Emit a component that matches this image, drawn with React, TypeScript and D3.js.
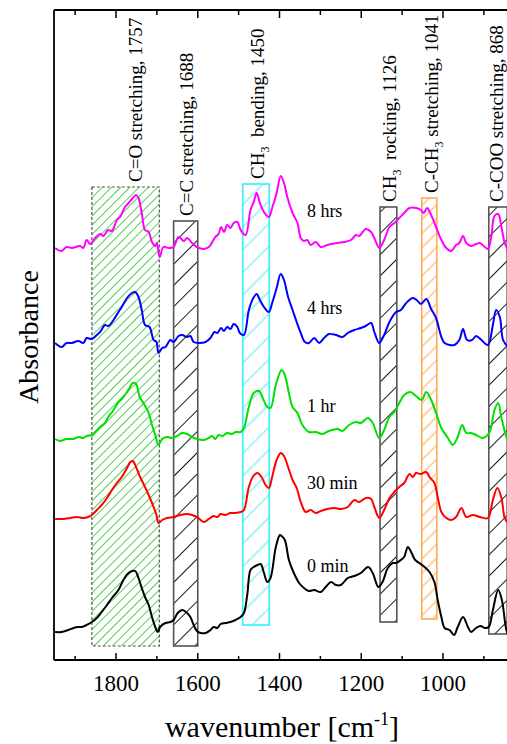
import React, { useEffect, useRef } from 'react';
import * as d3 from 'd3';

// spectra: [wavenumber cm-1, absorbance (stacked, a.u.)]
const min0 = [
  [1949, 0.28], [1933, 0.28], [1917, 0.30], [1904, 0.32], [1892, 0.33], [1884, 0.33], [1872, 0.35], [1859, 0.38],
  [1847, 0.42], [1835, 0.48], [1822, 0.55], [1810, 0.62], [1794, 0.70], [1782, 0.80], [1772, 0.86], [1761, 0.89],
  [1753, 0.89], [1745, 0.82], [1737, 0.72], [1729, 0.63], [1720, 0.55], [1712, 0.43], [1704, 0.33], [1698, 0.28],
  [1692, 0.33], [1679, 0.37], [1667, 0.38], [1659, 0.40], [1649, 0.47], [1638, 0.50], [1626, 0.47], [1618, 0.43],
  [1610, 0.35], [1602, 0.29], [1593, 0.27], [1581, 0.27], [1569, 0.30], [1561, 0.33], [1552, 0.32], [1544, 0.36],
  [1532, 0.37], [1520, 0.38], [1508, 0.40], [1495, 0.43], [1487, 0.47], [1479, 0.65], [1471, 0.90], [1463, 0.93],
  [1454, 0.95], [1446, 0.96], [1438, 0.87], [1430, 0.78], [1422, 0.82], [1409, 1.13], [1399, 1.25], [1395, 1.24],
  [1387, 1.20], [1377, 1.00], [1366, 0.88], [1352, 0.77], [1340, 0.72], [1328, 0.69], [1315, 0.70], [1299, 0.68],
  [1287, 0.73], [1274, 0.78], [1262, 0.75], [1250, 0.75], [1233, 0.82], [1217, 0.84], [1201, 0.87], [1183, 0.93],
  [1172, 0.87], [1158, 0.73], [1148, 0.78], [1135, 0.92], [1123, 0.97], [1115, 0.97], [1103, 1.00], [1095, 1.03],
  [1086, 1.13], [1078, 1.08], [1068, 1.00], [1058, 0.97], [1045, 0.93], [1033, 0.88], [1021, 0.78], [1013, 0.60],
  [1004, 0.43], [996, 0.32], [984, 0.30], [973, 0.25], [964, 0.33], [951, 0.43], [939, 0.33], [931, 0.28],
  [919, 0.32], [908, 0.34], [898, 0.32], [888, 0.33], [878, 0.50], [865, 0.70], [856, 0.60], [845, 0.30], [840, 0.25],
];
const min30 = [
  [1949, 1.41], [1929, 1.41], [1912, 1.42], [1896, 1.43], [1880, 1.42], [1868, 1.43], [1859, 1.45], [1847, 1.50],
  [1835, 1.55], [1822, 1.62], [1810, 1.70], [1798, 1.77], [1786, 1.83], [1773, 1.92], [1765, 1.98], [1759, 1.99],
  [1751, 1.93], [1741, 1.83], [1729, 1.73], [1718, 1.63], [1708, 1.53], [1701, 1.45], [1696, 1.37], [1687, 1.40],
  [1675, 1.42], [1659, 1.43], [1643, 1.45], [1626, 1.46], [1614, 1.45], [1602, 1.43], [1585, 1.38], [1573, 1.41],
  [1561, 1.44], [1552, 1.43], [1544, 1.46], [1532, 1.45], [1520, 1.47], [1508, 1.47], [1495, 1.48], [1487, 1.50],
  [1475, 1.73], [1464, 1.84], [1454, 1.87], [1444, 1.83], [1434, 1.75], [1426, 1.72], [1418, 1.83], [1407, 2.00],
  [1397, 2.07], [1389, 2.04], [1379, 1.93], [1368, 1.80], [1358, 1.72], [1348, 1.58], [1336, 1.48], [1324, 1.50],
  [1311, 1.47], [1299, 1.49], [1283, 1.51], [1266, 1.52], [1250, 1.51], [1233, 1.53], [1217, 1.60], [1205, 1.58],
  [1189, 1.62], [1176, 1.61], [1168, 1.53], [1156, 1.42], [1144, 1.50], [1131, 1.62], [1119, 1.68], [1107, 1.73],
  [1095, 1.77], [1082, 1.86], [1074, 1.83], [1066, 1.87], [1054, 1.86], [1041, 1.88], [1033, 1.83], [1021, 1.77],
  [1013, 1.63], [1004, 1.48], [992, 1.42], [980, 1.40], [968, 1.43], [955, 1.52], [943, 1.43], [927, 1.45],
  [910, 1.43], [890, 1.42], [878, 1.60], [867, 1.72], [857, 1.62], [849, 1.42], [841, 1.37],
];
const hr1 = [
  [1949, 2.21], [1937, 2.19], [1921, 2.21], [1904, 2.21], [1892, 2.23], [1880, 2.22], [1872, 2.24], [1859, 2.25],
  [1851, 2.28], [1839, 2.33], [1827, 2.37], [1819, 2.43], [1806, 2.50], [1794, 2.58], [1786, 2.61], [1773, 2.68],
  [1767, 2.72], [1759, 2.77], [1751, 2.76], [1742, 2.63], [1733, 2.57], [1720, 2.47], [1712, 2.35], [1704, 2.25],
  [1696, 2.15], [1687, 2.21], [1675, 2.23], [1663, 2.22], [1651, 2.24], [1638, 2.27], [1626, 2.26], [1614, 2.23],
  [1602, 2.21], [1585, 2.20], [1573, 2.22], [1565, 2.24], [1557, 2.21], [1549, 2.25], [1540, 2.24], [1528, 2.27],
  [1516, 2.26], [1508, 2.28], [1495, 2.28], [1487, 2.32], [1475, 2.53], [1463, 2.67], [1450, 2.69], [1442, 2.63],
  [1430, 2.53], [1422, 2.52], [1409, 2.75], [1395, 2.90], [1387, 2.85], [1377, 2.67], [1368, 2.53], [1356, 2.47],
  [1344, 2.35], [1328, 2.28], [1311, 2.28], [1295, 2.26], [1279, 2.29], [1258, 2.31], [1246, 2.29], [1230, 2.35],
  [1213, 2.38], [1201, 2.37], [1184, 2.42], [1172, 2.37], [1156, 2.22], [1144, 2.30], [1131, 2.43], [1119, 2.48],
  [1107, 2.57], [1095, 2.65], [1080, 2.68], [1066, 2.64], [1052, 2.60], [1041, 2.68], [1029, 2.60], [1017, 2.47],
  [1004, 2.32], [988, 2.22], [976, 2.15], [964, 2.23], [953, 2.35], [943, 2.27], [931, 2.27], [919, 2.25],
  [902, 2.22], [886, 2.28], [874, 2.50], [865, 2.57], [857, 2.42], [845, 2.23], [840, 2.18],
];
const hrs4 = [
  [1949, 3.17], [1933, 3.13], [1921, 3.17], [1908, 3.17], [1892, 3.19], [1880, 3.17], [1872, 3.22], [1859, 3.21],
  [1847, 3.25], [1839, 3.28], [1827, 3.35], [1819, 3.34], [1806, 3.40], [1794, 3.48], [1786, 3.53], [1773, 3.62],
  [1761, 3.67], [1753, 3.68], [1745, 3.63], [1737, 3.50], [1729, 3.35], [1718, 3.33], [1708, 3.20], [1701, 3.18],
  [1696, 3.07], [1687, 3.12], [1679, 3.13], [1667, 3.20], [1659, 3.18], [1647, 3.24], [1638, 3.25], [1626, 3.23],
  [1618, 3.24], [1610, 3.18], [1598, 3.17], [1581, 3.18], [1569, 3.22], [1559, 3.28], [1552, 3.27], [1543, 3.32],
  [1536, 3.29], [1528, 3.33], [1520, 3.31], [1512, 3.36], [1503, 3.33], [1497, 3.27], [1487, 3.25], [1475, 3.50],
  [1464, 3.62], [1456, 3.66], [1448, 3.60], [1438, 3.53], [1426, 3.48], [1418, 3.57], [1407, 3.72], [1397, 3.86],
  [1389, 3.80], [1379, 3.63], [1368, 3.50], [1358, 3.38], [1348, 3.27], [1338, 3.18], [1328, 3.17], [1315, 3.22],
  [1303, 3.17], [1291, 3.22], [1279, 3.26], [1262, 3.25], [1246, 3.23], [1233, 3.27], [1217, 3.30], [1201, 3.32],
  [1189, 3.34], [1176, 3.37], [1168, 3.28], [1156, 3.17], [1144, 3.25], [1131, 3.38], [1115, 3.48], [1103, 3.50],
  [1090, 3.57], [1074, 3.62], [1062, 3.59], [1054, 3.56], [1041, 3.61], [1029, 3.51], [1017, 3.42], [1004, 3.23],
  [996, 3.17], [984, 3.15], [972, 3.15], [960, 3.20], [951, 3.31], [941, 3.20], [929, 3.20], [919, 3.24],
  [906, 3.20], [890, 3.15], [878, 3.35], [870, 3.50], [861, 3.43], [853, 3.20], [841, 3.13],
];
const hrs8 = [
  [1949, 4.12], [1933, 4.09], [1921, 4.13], [1908, 4.12], [1888, 4.14], [1880, 4.12], [1872, 4.20], [1863, 4.16],
  [1851, 4.22], [1839, 4.26], [1831, 4.24], [1819, 4.30], [1810, 4.29], [1798, 4.40], [1790, 4.43], [1778, 4.53],
  [1769, 4.57], [1761, 4.61], [1751, 4.65], [1745, 4.62], [1737, 4.47], [1729, 4.30], [1720, 4.28], [1712, 4.18],
  [1704, 4.14], [1700, 4.17], [1693, 4.03], [1684, 4.13], [1671, 4.12], [1659, 4.13], [1647, 4.23], [1634, 4.19],
  [1626, 4.22], [1614, 4.17], [1602, 4.13], [1585, 4.11], [1573, 4.13], [1557, 4.23], [1549, 4.26], [1543, 4.33],
  [1536, 4.28], [1528, 4.35], [1520, 4.32], [1512, 4.37], [1503, 4.38], [1495, 4.30], [1483, 4.25], [1471, 4.50],
  [1463, 4.58], [1456, 4.67], [1448, 4.57], [1438, 4.48], [1426, 4.43], [1418, 4.52], [1407, 4.67], [1397, 4.84],
  [1389, 4.77], [1381, 4.63], [1368, 4.47], [1356, 4.37], [1348, 4.22], [1340, 4.19], [1332, 4.20], [1324, 4.15],
  [1311, 4.18], [1299, 4.13], [1283, 4.15], [1258, 4.17], [1242, 4.18], [1225, 4.20], [1213, 4.25], [1205, 4.24],
  [1189, 4.31], [1176, 4.28], [1164, 4.18], [1156, 4.12], [1144, 4.20], [1131, 4.33], [1119, 4.37], [1107, 4.42],
  [1095, 4.47], [1082, 4.52], [1066, 4.52], [1054, 4.50], [1047, 4.47], [1039, 4.52], [1029, 4.45], [1017, 4.33],
  [1004, 4.20], [992, 4.12], [980, 4.09], [968, 4.15], [960, 4.17], [951, 4.24], [943, 4.17], [931, 4.14],
  [919, 4.16], [910, 4.17], [898, 4.13], [890, 4.11], [882, 4.23], [874, 4.44], [865, 4.46], [857, 4.33],
  [849, 4.17], [841, 4.10],
];

const seriesData = [min0, min30, hr1, hrs4, hrs8];
const seriesNames = ['0 min', '30 min', '1 hr', '4 hrs', '8 hrs'];
const seriesColors = ['#000000', '#ff0000', '#00e000', '#0000ff', '#ff00ff'];
// where the time label sits [wavenumber, absorbance]
const seriesLabelAt = [[1333, 0.88], [1333, 1.71], [1333, 2.48], [1333, 3.46], [1333, 4.43]];

// assignment bands
const bandLo = [1859, 1659, 1490, 1154, 1052, 888];
const bandHi = [1694, 1600, 1425, 1113, 1015, 843];
const bandTop = [4.73, 4.39, 4.76, 4.53, 4.62, 4.53];
const bandBottom = [0.14, 0.14, 0.35, 0.38, 0.41, 0.26];
const bandLabelWn = [1752, 1628, 1453, 1131, 1029, 869];
// label pieces: odd entries are subscripts
const bandLabels = [
  ['C=O stretching, 1757'],
  ['C=C stretching, 1688'],
  ['CH', '3', '\u00a0 bending, 1450'],
  ['CH', '3', '\u00a0 rocking, 1126'],
  ['C-CH', '3', ' stretching, 1041'],
  ['C-COO stretching, 868'],
];
const bandHatch = ['#44cc44', '#000000', '#44e4f0', '#000000', '#ff9933', '#000000'];
const bandStroke = ['#555555', '#555555', '#33eeff', '#555555', '#ffaa55', '#555555'];
const bandSpacing = [6.5, 15, 16, 15, 10, 15];

const majorTicks = [1800, 1600, 1400, 1200, 1000];
const minorTicks = [1900, 1700, 1500, 1300, 1100, 900];

const FONT = '"Liberation Serif", "Times New Roman", serif';

export default function App() {
  const ref = useRef<SVGSVGElement>(null);

  useEffect(() => {
    const svg = d3.select(ref.current);
    svg.selectAll('*').remove();

    const left = 54, top = 10, bottom = 660;
    const x = d3.scaleLinear().domain([1800, 1000]).range([116, 443]);
    const y = d3.scaleLinear().domain([0, 6.5]).range([bottom, top]);
    const right = 507;

    const defs = svg.append('defs');
    bandHatch.forEach((c, i) => {
      const s = bandSpacing[i];
      const p = defs.append('pattern')
        .attr('id', 'hatch' + i)
        .attr('patternUnits', 'userSpaceOnUse')
        .attr('width', s).attr('height', s)
        .attr('patternTransform', `translate(${i * 3},0) rotate(45)`);
      p.append('line')
        .attr('x1', s / 2).attr('y1', 0).attr('x2', s / 2).attr('y2', s)
        .attr('stroke', c).attr('stroke-width', 0.9);
    });

    // bands
    bandLo.forEach((lo, i) => {
      svg.append('rect')
        .attr('x', x(lo)).attr('y', y(bandTop[i]))
        .attr('width', x(bandHi[i]) - x(lo)).attr('height', y(bandBottom[i]) - y(bandTop[i]))
        .attr('fill', `url(#hatch${i})`)
        .attr('stroke', bandStroke[i])
        .attr('stroke-width', i === 0 ? 1.2 : 1.6)
        .attr('stroke-dasharray', i === 0 ? '3,2' : null);
    });

    // band labels (rotated)
    bandLabels.forEach((parts, i) => {
      const t = svg.append('text')
        .attr('transform', `translate(${x(bandLabelWn[i])},${y(bandTop[i]) - 5}) rotate(-90)`)
        .attr('dy', '0.35em')
        .attr('font-family', FONT).attr('font-size', 19).attr('fill', '#000');
      parts.forEach((p, k) => {
        if (k % 2 === 1) {
          t.append('tspan').attr('font-size', 12).attr('dy', 5).text(p);
        } else {
          t.append('tspan').attr('dy', k > 0 ? -5 : null).text(p);
        }
      });
    });

    // spectra
    const line = d3.line<number[]>()
      .x((d) => x(d[0]))
      .y((d) => y(d[1]))
      .curve(d3.curveCatmullRom.alpha(0.5));

    const clip = defs.append('clipPath').attr('id', 'plotclip');
    clip.append('rect').attr('x', left).attr('y', top).attr('width', right - left + 10).attr('height', bottom - top);

    seriesData.forEach((d, i) => {
      svg.append('path')
        .attr('d', line(d as number[][]))
        .attr('fill', 'none')
        .attr('stroke', seriesColors[i])
        .attr('stroke-width', 2)
        .attr('stroke-linejoin', 'round')
        .attr('clip-path', 'url(#plotclip)');
      svg.append('text')
        .attr('x', x(seriesLabelAt[i][0])).attr('y', y(seriesLabelAt[i][1]))
        .attr('font-family', FONT).attr('font-size', 18)
        .text(seriesNames[i]);
    });

    // frame
    const frame = svg.append('g').attr('stroke', '#000').attr('stroke-width', 1.8);
    frame.append('line').attr('x1', left).attr('y1', top).attr('x2', left).attr('y2', bottom);
    frame.append('line').attr('x1', left).attr('y1', bottom).attr('x2', right + 2).attr('y2', bottom);
    frame.append('line').attr('x1', left).attr('y1', top).attr('x2', right + 2).attr('y2', top);

    const tk = svg.append('g').attr('stroke', '#000').attr('stroke-width', 1.5);
    majorTicks.forEach((v) => {
      tk.append('line').attr('x1', x(v)).attr('x2', x(v)).attr('y1', bottom).attr('y2', bottom - 7);
      tk.append('line').attr('x1', x(v)).attr('x2', x(v)).attr('y1', top).attr('y2', top + 8);
    });
    minorTicks.forEach((v) => {
      tk.append('line').attr('x1', x(v)).attr('x2', x(v)).attr('y1', bottom).attr('y2', bottom - 4);
      tk.append('line').attr('x1', x(v)).attr('x2', x(v)).attr('y1', top).attr('y2', top + 5);
    });

    svg.selectAll('.tick_label').data(majorTicks).join('text')
      .attr('class', 'tick_label')
      .attr('x', (d) => x(d)).attr('y', 691)
      .attr('text-anchor', 'middle')
      .attr('font-family', FONT).attr('font-size', 23)
      .text((d) => d);

    // x label
    const xl = svg.append('text')
      .attr('x', 282).attr('y', 737)
      .attr('text-anchor', 'middle')
      .attr('font-family', FONT).attr('font-size', 30);
    xl.append('tspan').text('wavenumber [cm');
    xl.append('tspan').attr('font-size', 18).attr('dy', -12).text('-1');
    xl.append('tspan').attr('dy', 12).text(']');

    // y label
    svg.append('text')
      .attr('transform', 'translate(38,337) rotate(-90)')
      .attr('text-anchor', 'middle')
      .attr('font-family', FONT).attr('font-size', 28)
      .text('Absorbance');
  }, []);

  return (
    <svg ref={ref} width={507} height={744} style={{ position: 'absolute', left: 0, top: 0, background: '#fff' }} />
  );
}
